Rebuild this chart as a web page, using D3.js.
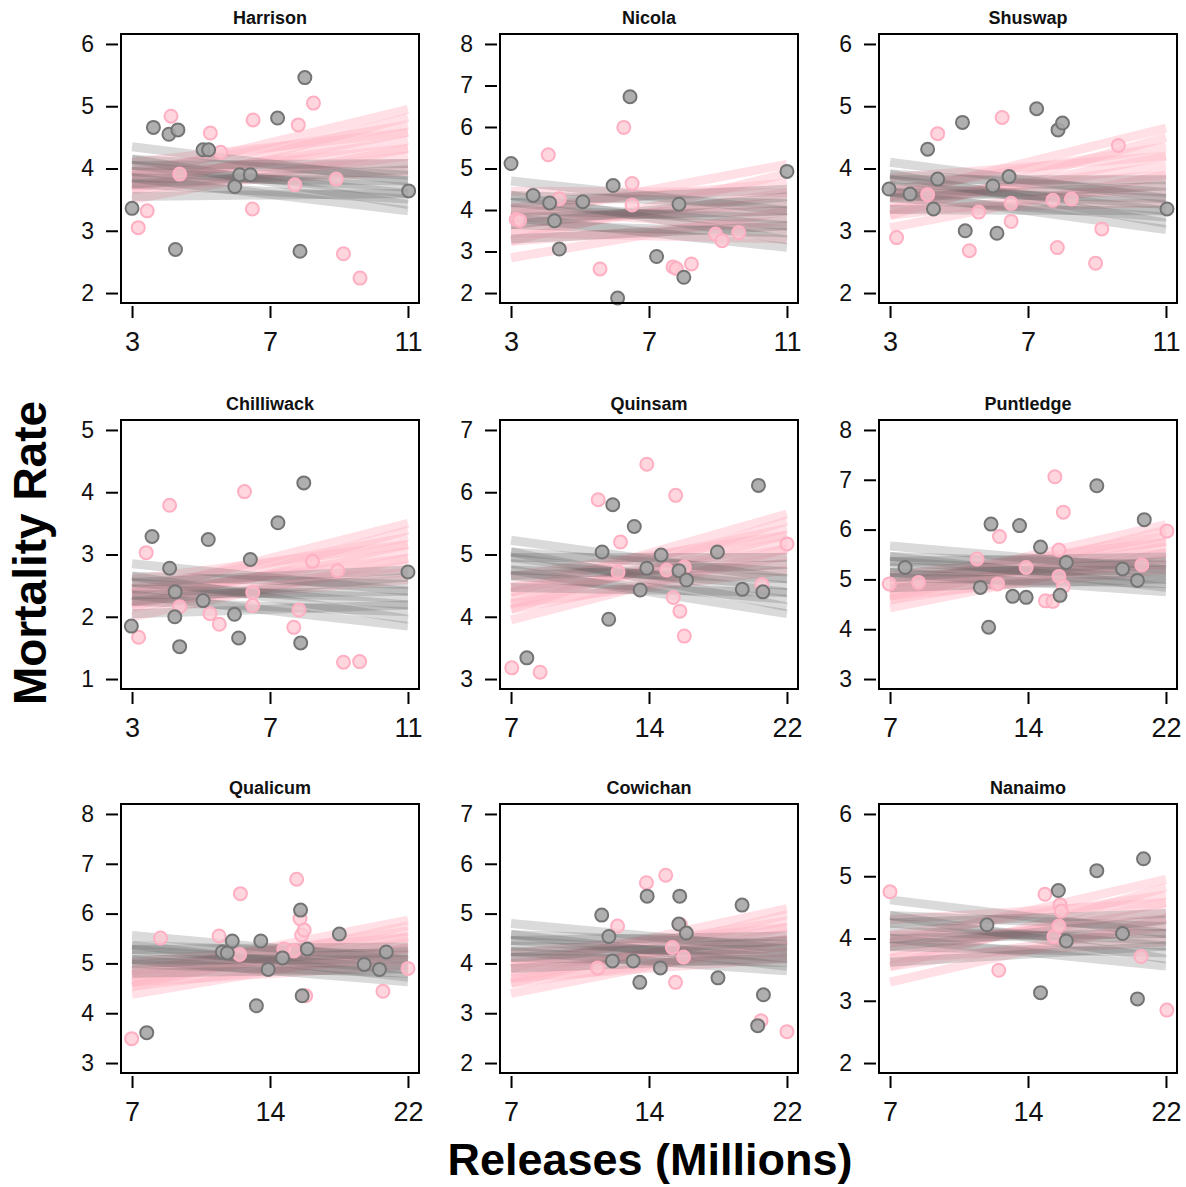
<!DOCTYPE html>
<html>
<head>
<meta charset="utf-8">
<script src="https://cdn.jsdelivr.net/npm/d3@7"></script>
<style>
  body { margin: 0; background: #fff; }
  svg { display: block; }
</style>
</head>
<body>
<svg id="chart" width="1186" height="1187"></svg>
<script>
// panels, in reading order
const hatcheries = ["Harrison", "Nicola", "Shuswap", "Chilliwack", "Quinsam", "Puntledge", "Qualicum", "Cowichan", "Nanaimo"];

// axis ticks (the middle x tick sits at the midpoint of the range)
const xTicks = [[3, 7, 11], [3, 7, 11], [3, 7, 11], [3, 7, 11], [7, 14.5, 22], [7, 14.5, 22], [7, 14.5, 22], [7, 14.5, 22], [7, 14.5, 22]];
const xTickLabels = [["3", "7", "11"], ["3", "7", "11"], ["3", "7", "11"], ["3", "7", "11"], ["7", "14", "22"], ["7", "14", "22"], ["7", "14", "22"], ["7", "14", "22"], ["7", "14", "22"]];
const yTicks = [[2, 3, 4, 5, 6], [2, 3, 4, 5, 6, 7, 8], [2, 3, 4, 5, 6], [1, 2, 3, 4, 5], [3, 4, 5, 6, 7], [3, 4, 5, 6, 7, 8], [3, 4, 5, 6, 7, 8], [2, 3, 4, 5, 6, 7], [2, 3, 4, 5, 6]];

// observed points [releases, mortality]
const greyPoints = [
  [[3.0, 3.36], [3.62, 4.66], [4.07, 4.55], [4.33, 4.62], [4.26, 2.70], [5.06, 4.30], [5.22, 4.30], [5.98, 3.71], [6.12, 3.90], [6.43, 3.90], [7.22, 4.81], [8.01, 5.46], [7.87, 2.67], [11.02, 3.64]],
  [[3.0, 5.12], [3.64, 4.35], [4.12, 4.17], [4.26, 3.74], [4.40, 3.06], [5.08, 4.20], [5.96, 4.59], [6.09, 1.88], [6.45, 6.73], [7.22, 2.88], [7.87, 4.14], [8.01, 2.38], [11.0, 4.93]],
  [[2.97, 3.67], [3.58, 3.59], [4.09, 4.31], [4.26, 3.35], [4.38, 3.83], [5.10, 4.74], [5.18, 3.00], [5.98, 3.72], [6.10, 2.96], [6.45, 3.87], [7.25, 4.96], [7.87, 4.62], [8.0, 4.73], [11.03, 3.35]],
  [[2.98, 1.85], [3.58, 3.29], [4.09, 2.78], [4.25, 2.40], [4.24, 2.0], [4.38, 1.52], [5.06, 2.26], [5.21, 3.24], [5.97, 2.04], [6.09, 1.66], [6.43, 2.92], [7.23, 3.51], [7.98, 4.15], [7.89, 1.58], [11.0, 2.72]],
  [[7.86, 3.34], [11.95, 5.04], [12.31, 3.96], [12.53, 5.80], [13.70, 5.45], [14.02, 4.43], [14.38, 4.78], [15.16, 4.99], [16.13, 4.74], [16.54, 4.59], [18.22, 5.04], [19.57, 4.44], [20.45, 6.11], [20.69, 4.40]],
  [[7.82, 5.24], [11.91, 4.84], [12.36, 4.04], [12.49, 6.11], [13.67, 4.66], [14.04, 6.08], [14.4, 4.64], [15.18, 5.65], [16.24, 4.68], [16.58, 5.34], [18.24, 6.88], [19.64, 5.21], [20.45, 4.98], [20.82, 6.20]],
  [[7.8, 3.61], [11.91, 5.23], [12.18, 5.21], [12.45, 5.45], [13.76, 4.15], [14.0, 5.45], [14.4, 4.88], [15.18, 5.11], [16.16, 6.07], [16.25, 4.35], [16.53, 5.29], [18.27, 5.59], [19.62, 4.98], [20.45, 4.88], [20.82, 5.23]],
  [[11.93, 4.97], [12.32, 4.54], [12.51, 4.05], [13.64, 4.05], [14.0, 3.62], [14.4, 5.35], [15.12, 3.91], [16.12, 4.79], [16.17, 5.35], [16.53, 4.61], [18.25, 3.71], [19.56, 5.17], [20.41, 2.75], [20.72, 3.37]],
  [[12.27, 4.22], [15.18, 3.13], [16.15, 4.77], [16.58, 3.96], [18.24, 5.09], [19.64, 4.08], [20.45, 3.03], [20.78, 5.28]]
];
const pinkPoints = [
  [[3.18, 3.05], [3.44, 3.32], [4.13, 4.84], [4.38, 3.91], [5.27, 4.57], [5.57, 4.26], [6.51, 4.78], [6.49, 3.35], [7.72, 3.74], [7.82, 4.70], [8.26, 5.05], [8.92, 3.83], [9.13, 2.63], [9.61, 2.24]],
  [[3.15, 3.77], [3.25, 3.75], [4.08, 5.33], [4.40, 4.27], [5.58, 2.58], [6.27, 5.99], [6.51, 4.64], [6.51, 4.12], [7.70, 2.63], [7.79, 2.59], [8.23, 2.70], [8.93, 3.42], [9.12, 3.26], [9.60, 3.46]],
  [[3.19, 2.89], [4.09, 3.58], [4.38, 4.56], [5.30, 2.68], [5.57, 3.30], [6.25, 4.82], [6.51, 3.44], [6.51, 3.15], [7.72, 3.49], [7.85, 2.73], [8.26, 3.51], [8.96, 2.48], [9.14, 3.03], [9.62, 4.37]],
  [[3.19, 1.67], [3.41, 3.03], [4.09, 3.79], [4.38, 2.16], [5.26, 2.05], [5.53, 1.88], [6.26, 4.01], [6.50, 2.39], [6.50, 2.18], [7.69, 1.83], [7.84, 2.11], [8.23, 2.89], [8.96, 2.74], [9.13, 1.27], [9.60, 1.28]],
  [[7.04, 3.18], [8.58, 3.11], [11.74, 5.88], [12.82, 4.72], [12.95, 5.20], [14.38, 6.45], [15.46, 4.75], [15.82, 4.31], [15.95, 5.95], [16.18, 4.09], [16.42, 4.80], [16.42, 3.69], [20.63, 4.52], [22.0, 5.17]],
  [[6.96, 4.91], [8.55, 4.94], [11.73, 5.41], [12.85, 4.91], [12.95, 5.86], [14.4, 5.24], [15.45, 4.57], [15.85, 4.56], [15.96, 7.06], [16.18, 5.59], [16.18, 5.06], [16.42, 6.35], [16.42, 4.86], [20.69, 5.29], [22.05, 5.97]],
  [[6.98, 3.49], [8.55, 5.51], [11.73, 5.55], [12.85, 5.18], [12.89, 6.40], [15.25, 5.29], [15.8, 5.25], [15.95, 6.69], [16.13, 5.90], [16.22, 5.57], [16.36, 5.67], [16.44, 4.35], [20.64, 4.44], [22.0, 4.90]],
  [[11.71, 3.91], [12.79, 4.75], [14.36, 5.62], [15.41, 5.77], [15.77, 4.32], [15.94, 3.62], [16.2, 4.78], [16.38, 4.13], [20.59, 2.85], [22.0, 2.63]],
  [[7.0, 4.75], [12.91, 3.49], [15.42, 4.71], [15.91, 4.03], [16.18, 4.20], [16.24, 4.54], [16.31, 4.44], [20.64, 3.71], [22.05, 2.85]]
];

// posterior fit lines, [mortality at first x tick, mortality at last x tick]
const greyLines = [
  [[3.95, 3.70], [4.05, 3.60], [3.85, 3.80], [4.15, 3.89], [3.75, 3.51], [4.15, 3.42], [3.75, 3.98], [4.35, 3.80], [3.55, 3.60], [4.05, 4.08], [3.85, 3.32]],
  [[4.00, 3.80], [4.18, 3.62], [3.82, 3.98], [4.35, 4.15], [3.65, 3.45], [4.35, 3.28], [3.65, 4.32], [4.70, 3.98], [3.30, 3.62], [4.18, 4.50], [3.82, 3.10]],
  [[3.72, 3.42], [3.82, 3.32], [3.62, 3.52], [3.91, 3.62], [3.53, 3.22], [3.91, 3.12], [3.53, 3.72], [4.10, 3.52], [3.34, 3.32], [3.82, 3.82], [3.62, 3.02]],
  [[2.45, 2.30], [2.55, 2.19], [2.35, 2.41], [2.65, 2.52], [2.25, 2.08], [2.65, 1.96], [2.25, 2.64], [2.85, 2.41], [2.05, 2.19], [2.55, 2.75], [2.35, 1.85]],
  [[4.85, 4.50], [4.95, 4.39], [4.75, 4.61], [5.04, 4.72], [4.66, 4.28], [5.04, 4.16], [4.66, 4.84], [5.23, 4.61], [4.47, 4.39], [4.95, 4.95], [4.75, 4.05]],
  [[5.25, 5.10], [5.36, 5.01], [5.14, 5.19], [5.46, 5.28], [5.04, 4.92], [5.46, 4.84], [5.04, 5.36], [5.67, 5.19], [4.83, 5.01], [5.36, 5.45], [5.14, 4.75]],
  [[5.18, 4.98], [5.28, 4.89], [5.08, 5.07], [5.37, 5.16], [4.99, 4.80], [5.37, 4.72], [4.99, 5.24], [5.56, 5.07], [4.80, 4.89], [5.28, 5.33], [5.08, 4.63]],
  [[4.35, 4.20], [4.46, 4.11], [4.24, 4.29], [4.58, 4.38], [4.12, 4.02], [4.58, 3.94], [4.12, 4.46], [4.80, 4.29], [3.90, 4.11], [4.46, 4.55], [4.24, 3.85]],
  [[4.12, 3.98], [4.25, 3.88], [4.00, 4.08], [4.37, 4.19], [3.87, 3.77], [4.37, 3.67], [3.87, 4.30], [4.62, 4.08], [3.62, 3.88], [4.25, 4.40], [4.00, 3.56]]
];
const pinkLines = [
  [[3.80, 4.45], [3.88, 4.32], [3.72, 4.58], [3.95, 4.70], [3.65, 4.20], [3.95, 4.08], [3.65, 4.82], [4.10, 4.58], [3.50, 4.32], [3.88, 4.95], [3.72, 3.95]],
  [[3.65, 4.20], [3.85, 3.98], [3.45, 4.42], [4.05, 4.65], [3.25, 3.75], [4.05, 3.52], [3.25, 4.88], [4.45, 4.42], [2.85, 3.98], [3.85, 5.10], [3.45, 3.30]],
  [[3.45, 4.05], [3.55, 3.90], [3.35, 4.20], [3.65, 4.35], [3.25, 3.75], [3.65, 3.60], [3.25, 4.50], [3.85, 4.20], [3.05, 3.90], [3.55, 4.65], [3.35, 3.45]],
  [[2.30, 3.05], [2.38, 2.94], [2.22, 3.16], [2.45, 3.28], [2.15, 2.82], [2.45, 2.71], [2.15, 3.39], [2.60, 3.16], [2.00, 2.94], [2.38, 3.50], [2.22, 2.60]],
  [[4.30, 5.20], [4.39, 5.09], [4.21, 5.31], [4.48, 5.42], [4.12, 4.98], [4.48, 4.86], [4.12, 5.54], [4.65, 5.31], [3.95, 5.09], [4.39, 5.65], [4.21, 4.75]],
  [[4.75, 5.65], [4.83, 5.54], [4.67, 5.76], [4.91, 5.88], [4.59, 5.42], [4.91, 5.31], [4.59, 5.99], [5.07, 5.76], [4.43, 5.54], [4.83, 6.10], [4.67, 5.20]],
  [[4.70, 5.42], [4.78, 5.31], [4.62, 5.53], [4.86, 5.65], [4.54, 5.19], [4.86, 5.08], [4.54, 5.76], [5.02, 5.53], [4.38, 5.31], [4.78, 5.87], [4.62, 4.97]],
  [[3.80, 4.60], [3.90, 4.48], [3.70, 4.72], [4.00, 4.85], [3.60, 4.35], [4.00, 4.22], [3.60, 4.98], [4.20, 4.72], [3.40, 4.48], [3.90, 5.10], [3.70, 4.10]],
  [[3.80, 4.45], [3.93, 4.32], [3.68, 4.58], [4.05, 4.70], [3.55, 4.20], [4.05, 4.08], [3.55, 4.82], [4.30, 4.58], [3.30, 4.32], [3.93, 4.95], [3.68, 3.95]]
];

//layout//
const colLeft = [121, 500, 879];
const rowTop = [34, 420, 804];
const panelW = 298;
const panelH = 269;
const font = "'Liberation Sans', Arial, sans-serif";

// R-style 4% padding around the tick range
const expand = (t) => {
  const lo = t[0], hi = t[t.length - 1], pad = (hi - lo) * 0.04;
  return [lo - pad, hi + pad];
};

const svg = d3.select('#chart');
svg.append('rect').attr('width', 1186).attr('height', 1187).attr('fill', '#fff');

hatcheries.forEach((name, i) => {
  const g = svg.append('g')
    .attr('transform', `translate(${colLeft[i % 3]}, ${rowTop[Math.floor(i / 3)]})`);

  const x = d3.scaleLinear().domain(expand(xTicks[i])).range([0, panelW]);
  const y = d3.scaleLinear().domain(expand(yTicks[i])).range([panelH, 0]);

  const x0 = xTicks[i][0];
  const x1 = xTicks[i][xTicks[i].length - 1];
  const line = d3.line()
    .x((d) => x(d[0]))
    .y((d) => y(d[1]));

  //fit lines, pink under grey//
  g.append('g').selectAll('path')
    .data(pinkLines[i])
    .join('path')
    .attr('d', (d) => line([[x0, d[0]], [x1, d[1]]]))
    .attr('fill', 'none')
    .attr('stroke', '#ffb6c4')
    .attr('stroke-opacity', 0.42)
    .attr('stroke-width', 9);

  g.append('g').selectAll('path')
    .data(greyLines[i])
    .join('path')
    .attr('d', (d) => line([[x0, d[0]], [x1, d[1]]]))
    .attr('fill', 'none')
    .attr('stroke', '#555')
    .attr('stroke-opacity', 0.22)
    .attr('stroke-width', 9);

  //points//
  g.append('g').selectAll('circle')
    .data(pinkPoints[i])
    .join('circle')
    .attr('cx', (d) => x(d[0]))
    .attr('cy', (d) => y(d[1]))
    .attr('r', 6.5)
    .attr('fill', '#ffc8d3')
    .attr('fill-opacity', 0.75)
    .attr('stroke', '#ffafc2')
    .attr('stroke-width', 2);

  g.append('g').selectAll('circle')
    .data(greyPoints[i])
    .join('circle')
    .attr('cx', (d) => x(d[0]))
    .attr('cy', (d) => y(d[1]))
    .attr('r', 6.5)
    .attr('fill', '#a6a6a6')
    .attr('fill-opacity', 0.9)
    .attr('stroke', '#747474')
    .attr('stroke-width', 2);

  //frame//
  g.append('rect')
    .attr('width', panelW)
    .attr('height', panelH)
    .attr('fill', 'none')
    .attr('stroke', '#000')
    .attr('stroke-width', 2);

  //axes//
  const yAxis = d3.axisLeft(y)
    .tickValues(yTicks[i])
    .tickSize(12)
    .tickPadding(12)
    .tickFormat(d3.format('d'));
  const ya = g.append('g').attr('transform', 'translate(-3, 0)').call(yAxis);
  ya.select('.domain').remove();
  ya.selectAll('line').attr('stroke', '#000').attr('stroke-width', 2);
  ya.selectAll('text').attr('font-family', font).attr('font-size', 23).attr('fill', '#111');

  const xAxis = d3.axisBottom(x)
    .tickValues(xTicks[i])
    .tickSize(12)
    .tickPadding(14)
    .tickFormat((d, j) => xTickLabels[i][j]);
  const xa = g.append('g').attr('transform', `translate(0, ${panelH + 3})`).call(xAxis);
  xa.select('.domain').remove();
  xa.selectAll('line').attr('stroke', '#000').attr('stroke-width', 2);
  xa.selectAll('text').attr('font-family', font).attr('font-size', 27).attr('fill', '#111');

  //panel title//
  g.append('text')
    .attr('x', panelW / 2)
    .attr('y', -10)
    .attr('text-anchor', 'middle')
    .attr('font-family', font)
    .attr('font-weight', 'bold')
    .attr('font-size', 18)
    .attr('fill', '#111')
    .text(name);
});

//axis titles//
svg.append('text')
  .attr('transform', 'translate(46, 553) rotate(-90)')
  .attr('text-anchor', 'middle')
  .attr('font-family', font)
  .attr('font-weight', 'bold')
  .attr('font-size', 46)
  .attr('fill', '#000')
  .text('Mortality Rate');

svg.append('text')
  .attr('x', 650)
  .attr('y', 1175)
  .attr('text-anchor', 'middle')
  .attr('font-family', font)
  .attr('font-weight', 'bold')
  .attr('font-size', 45)
  .attr('fill', '#000')
  .text('Releases (Millions)');
</script>
</body>
</html>
